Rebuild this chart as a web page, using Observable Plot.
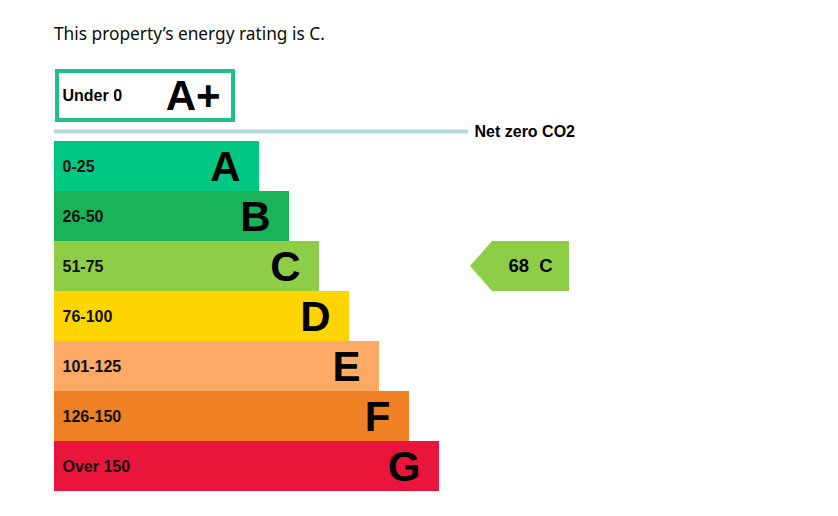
<!DOCTYPE html>
<html>
<head>
<meta charset="utf-8">
<script src="https://cdn.jsdelivr.net/npm/d3@7"></script>
<script src="https://cdn.jsdelivr.net/npm/@observablehq/plot@0.6"></script>
<style>
  html, body { margin: 0; padding: 0; background: #fff; }
  #title { height: 55px; box-sizing: border-box; padding: 23px 0 0 54px; font-family: "Noto Sans", sans-serif; font-size: 17.3px; line-height: 22px; color: #0b0c0c; }
  #chart svg { display: block; }
</style>
</head>
<body>
<div id="title">This property’s energy rating is C.</div>
<div id="chart"></div>
<script>
// Rating bands
const ratings = ["A", "B", "C", "D", "E", "F", "G"];
const ranges = ["0-25", "26-50", "51-75", "76-100", "101-125", "126-150", "Over 150"];
const barLengths = [205, 235, 265, 295, 325, 355, 385];
const colors = ["#00c781", "#19b459", "#8dce46", "#ffd500", "#fcaa65", "#ef8023", "#e9153b"];
// Top band
const topRating = "A+";
const topRange = "Under 0";
const netZeroLabel = "Net zero CO2";
// Current rating
const currentScore = 68;
const currentRating = "C";

const font = "Liberation Sans, Arial, sans-serif";
const bands = ratings.map((r, i) => ({rating: r, range: ranges[i], len: barLengths[i], color: colors[i], row: i}));
const cur = bands[ratings.indexOf(currentRating)];

// arrow geometry (data units: x in px-units from left, y in rows)
const arrowTip = 416, arrowNeck = 438, arrowEnd = 515;
const arrow = [
  {x: arrowTip, y1: cur.row + 0.5, y2: cur.row + 0.5},
  {x: arrowNeck, y1: cur.row, y2: cur.row + 1},
  {x: arrowEnd, y1: cur.row, y2: cur.row + 1}
];

const chart = Plot.plot({
  width: 838,
  height: 461,
  margin: 0,
  x: {type: "linear", domain: [0, 784], range: [54, 838], axis: null},
  y: {type: "linear", domain: [0, 7], range: [86, 436], axis: null},
  marks: [
    // A+ box
    Plot.rect([{x1: 3, x2: 179, y1: -1.4, y2: -0.42}], {x1: "x1", x2: "x2", y1: "y1", y2: "y2", fill: "white", stroke: "#1fbf8a", strokeWidth: 4}),
    Plot.text([topRange], {x: 8, y: -0.91, text: d => d, textAnchor: "start", fontSize: 16, fontWeight: "bold", fontFamily: font, fill: "#000"}),
    Plot.text([topRating], {x: 166, y: -0.91, text: d => d, textAnchor: "end", fontSize: 42, fontWeight: "bold", fontFamily: font, fill: "#000", dy: 1}),
    // Net zero line
    Plot.ruleY([-0.2], {x1: 0, x2: 414, stroke: "#b3d9e0", strokeWidth: 4}),
    Plot.text([netZeroLabel], {x: 420, y: -0.2, text: d => d, textAnchor: "start", fontSize: 16, fontWeight: "bold", fontFamily: font, fill: "#000"}),
    // Bars
    Plot.rect(bands, {x1: 0, x2: "len", y1: "row", y2: d => d.row + 1, fill: "color"}),
    Plot.text(bands, {x: 8, y: d => d.row + 0.5, text: "range", textAnchor: "start", fontSize: 16, fontWeight: "bold", fontFamily: font, fill: "#111"}),
    Plot.text(bands, {x: d => d.len - 19, y: d => d.row + 0.5, text: "rating", textAnchor: "end", fontSize: 42, fontWeight: "bold", fontFamily: font, fill: "#000", dy: 1}),
    // Current arrow
    Plot.areaY(arrow, {x: "x", y1: "y1", y2: "y2", fill: cur.color, curve: "linear"}),
    Plot.text([`${currentScore}  ${currentRating}`], {x: 476, y: cur.row + 0.5, text: d => d, textAnchor: "middle", fontSize: 18.5, fontWeight: "bold", fontFamily: font, fill: "#000", style: "white-space: pre"})
  ]
});
document.getElementById("chart").appendChild(chart);
</script>
</body>
</html>
